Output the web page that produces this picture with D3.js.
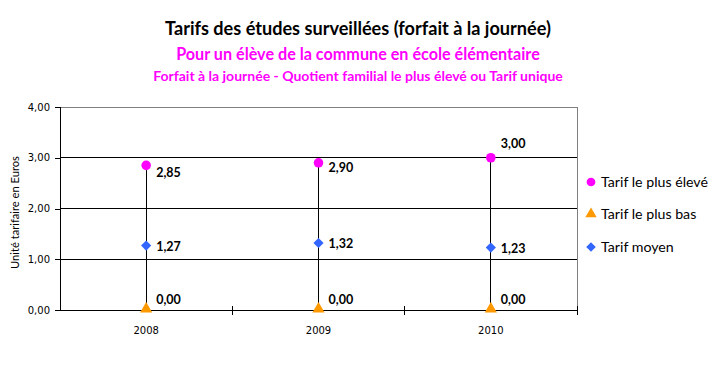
<!DOCTYPE html>
<html>
<head>
<meta charset="utf-8">
<script src="https://cdn.jsdelivr.net/npm/d3@7"></script>
<style>
  body { margin: 0; background: #fff; }
  svg { display: block; }
</style>
</head>
<body>
<div id="chart"></div>
<script>
// Data
const years = ['2008', '2009', '2010'];
const tarifHaut = [2.85, 2.90, 3.00];
const tarifBas = [0.00, 0.00, 0.00];
const tarifMoyen = [1.27, 1.32, 1.23];
const yTicks = [0, 1, 2, 3, 4];

const seriesNames = ['Tarif le plus élevé', 'Tarif le plus bas', 'Tarif moyen'];
const seriesColors = ['#FF00FF', '#FF9900', '#3366FF'];

const width = 715, height = 370;
const plot = { left: 60, right: 577, top: 107, bottom: 310 };

const fmt = v => d3.format('.2f')(v).replace('.', ',');

const svg = d3.select('#chart').append('svg')
    .attr('width', width)
    .attr('height', height);

// scale a text's font size so that it takes the wanted width
const font = 'Lato, "Open Sans", sans-serif';
function fitText(sel, target) {
    const w = sel.node().getComputedTextLength();
    const fs = parseFloat(sel.style('font-size'));
    sel.style('font-size', (fs * target / w) + 'px');
    return fs * target / w;
}

// Titles
const t1 = svg.append('text')
    .attr('x', 358).attr('y', 35)
    .attr('text-anchor', 'middle')
    .style('font-family', font).style('font-weight', 'bold').style('font-size', '16px')
    .attr('fill', '#000')
    .text('Tarifs des études surveillées (forfait à la journée)');
fitText(t1, 386);

const t2 = svg.append('text')
    .attr('x', 358).attr('y', 60)
    .attr('text-anchor', 'middle')
    .style('font-family', font).style('font-weight', 'bold').style('font-size', '14px')
    .attr('fill', '#FF00FF')
    .text('Pour un élève de la commune en école élémentaire');
fitText(t2, 364);

const t3 = svg.append('text')
    .attr('x', 358).attr('y', 81)
    .attr('text-anchor', 'middle')
    .style('font-family', font).style('font-weight', 'bold').style('font-size', '13px')
    .attr('fill', '#FF00FF')
    .text('Forfait à la journée - Quotient familial le plus élevé ou Tarif unique');
fitText(t3, 410);

// Scales
const x = d3.scaleBand().domain(years).range([plot.left, plot.right]);
const y = d3.scaleLinear().domain([0, 4]).range([plot.bottom, plot.top]);
const cx = d => x(d) + x.bandwidth() / 2;

// Gridlines
svg.append('g')
    .selectAll('line')
    .data(yTicks.filter(v => v > 0 && v < 4))
    .join('line')
    .attr('x1', plot.left).attr('x2', plot.right)
    .attr('y1', d => y(d)).attr('y2', d => y(d))
    .attr('stroke', '#000').attr('stroke-width', 1)
    .attr('shape-rendering', 'crispEdges');

// Plot border (top and right, grey)
svg.append('path')
    .attr('d', `M${plot.left},${plot.top}H${plot.right}V${plot.bottom}`)
    .attr('fill', 'none')
    .attr('stroke', '#808080')
    .attr('shape-rendering', 'crispEdges');

// Y axis
const yAxis = svg.append('g')
    .attr('transform', `translate(${plot.left},0)`)
    .call(d3.axisLeft(y).tickValues(yTicks).tickSize(5).tickPadding(5).tickFormat(fmt));
yAxis.selectAll('text')
    .style('font-family', '"DejaVu Sans", Verdana, sans-serif')
    .style('font-size', '10px')
    .attr('fill', '#000');
yAxis.selectAll('path, line').attr('stroke', '#000').attr('shape-rendering', 'crispEdges');

// X axis labels
const xAxis = svg.append('g')
    .attr('transform', `translate(0,${plot.bottom})`)
    .call(d3.axisBottom(x).tickSize(0).tickPadding(17));
xAxis.select('.domain').remove();
xAxis.selectAll('text')
    .style('font-family', '"DejaVu Sans", Verdana, sans-serif')
    .style('font-size', '10px')
    .attr('fill', '#000');

// X axis line and ticks between categories
svg.append('line')
    .attr('x1', plot.left).attr('x2', plot.right)
    .attr('y1', plot.bottom).attr('y2', plot.bottom)
    .attr('stroke', '#000').attr('shape-rendering', 'crispEdges');
const bounds = years.map(d => x(d)).concat([x.range()[1]]);
svg.append('g')
    .selectAll('line')
    .data(bounds.slice(1))
    .join('line')
    .attr('x1', d => d).attr('x2', d => d)
    .attr('y1', plot.bottom - 4).attr('y2', plot.bottom + 5)
    .attr('stroke', '#000').attr('shape-rendering', 'crispEdges');

// High-low lines
svg.append('g')
    .selectAll('line')
    .data(years)
    .join('line')
    .attr('x1', d => cx(d)).attr('x2', d => cx(d))
    .attr('y1', (d, i) => y(tarifHaut[i]))
    .attr('y2', (d, i) => y(tarifBas[i]))
    .attr('stroke', '#000').attr('stroke-width', 1)
    .attr('shape-rendering', 'crispEdges');

// Markers (diamond = square turned 45deg, like Excel)
const markers = [
    { sym: d3.symbol().type(d3.symbolCircle).size(72), rot: 0, dy: 0 },
    { sym: d3.symbol().type(d3.symbolTriangle).size(64), rot: 0, dy: -1 },
    { sym: d3.symbol().type(d3.symbolSquare).size(52), rot: 45, dy: 0 }
];
const seriesValues = [tarifHaut, tarifBas, tarifMoyen];

seriesValues.forEach((vals, s) => {
    const m = markers[s];
    svg.append('g')
        .selectAll('path')
        .data(vals)
        .join('path')
        .attr('transform', (v, i) => `translate(${cx(years[i])},${y(v) + m.dy}) rotate(${m.rot})`)
        .attr('d', m.sym())
        .attr('fill', seriesColors[s]);
});

// Data labels
const highDy = [12, 9, -10];
const lowDy = [-6, -6, -6];
const moyDy = [5, 5, 5];
const labelDy = [highDy, lowDy, moyDy];
seriesValues.forEach((vals, s) => {
    svg.append('g')
        .selectAll('text')
        .data(vals)
        .join('text')
        .attr('x', (v, i) => cx(years[i]) + 10)
        .attr('y', (v, i) => y(v) + labelDy[s][i])
        .style('font-family', font)
        .style('font-weight', 'bold')
        .style('font-size', '12.5px')
        .attr('fill', '#000')
        .text(fmt);
});

// Y axis title
const yTitle = svg.append('text')
    .attr('transform', `translate(19,${(plot.top + plot.bottom) / 2 + 4}) rotate(-90)`)
    .attr('text-anchor', 'middle')
    .style('font-family', font)
    .style('font-size', '11px')
    .attr('fill', '#000')
    .text('Unité tarifaire en Euros');
fitText(yTitle, 113);

// Legend
const legendY = [182, 214, 247];
const legendMarkers = [
    { sym: d3.symbol().type(d3.symbolCircle).size(60), rot: 0 },
    { sym: d3.symbol().type(d3.symbolTriangle).size(56), rot: 0 },
    { sym: d3.symbol().type(d3.symbolSquare).size(46), rot: 45 }
];
const legend = svg.append('g');
let legendSize = 13;
seriesNames.forEach((name, s) => {
    const m = legendMarkers[s];
    legend.append('path')
        .attr('transform', `translate(591,${legendY[s]}) rotate(${m.rot})`)
        .attr('d', m.sym())
        .attr('fill', seriesColors[s]);
    const t = legend.append('text')
        .attr('x', 601).attr('y', legendY[s] + 4.5)
        .style('font-family', font)
        .style('font-size', legendSize + 'px')
        .attr('fill', '#000')
        .text(name);
    // size taken from the longest entry
    if (s === 0) legendSize = fitText(t, 107);
});
</script>
</body>
</html>
